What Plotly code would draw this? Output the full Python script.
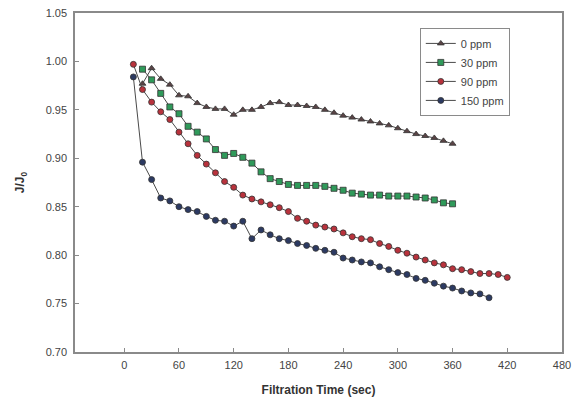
import plotly.graph_objects as go

t0 = list(range(20, 361, 10))
v0 = [0.977, 0.993, 0.982, 0.976, 0.965, 0.964, 0.957, 0.953, 0.951, 0.951,
      0.945, 0.950, 0.950, 0.953, 0.957, 0.958, 0.955, 0.955, 0.954, 0.953,
      0.950, 0.947, 0.944, 0.942, 0.940, 0.938, 0.936, 0.934, 0.931, 0.928,
      0.925, 0.923, 0.921, 0.918, 0.915]

t30 = list(range(20, 361, 10))
v30 = [0.992, 0.981, 0.967, 0.953, 0.946, 0.933, 0.927, 0.920, 0.909, 0.903,
       0.905, 0.901, 0.895, 0.886, 0.879, 0.876, 0.873, 0.872, 0.872, 0.872,
       0.871, 0.869, 0.867, 0.864, 0.863, 0.862, 0.862, 0.861, 0.861, 0.861,
       0.860, 0.859, 0.857, 0.854, 0.853]

t90 = list(range(10, 421, 10))
v90 = [0.997, 0.971, 0.958, 0.948, 0.940, 0.927, 0.915, 0.903, 0.894, 0.885,
       0.876, 0.870, 0.862, 0.858, 0.855, 0.852, 0.849, 0.845, 0.838, 0.835,
       0.831, 0.829, 0.827, 0.823, 0.819, 0.817, 0.816, 0.812, 0.809, 0.805,
       0.802, 0.798, 0.795, 0.792, 0.790, 0.786, 0.785, 0.783, 0.781, 0.781,
       0.780, 0.777]

t150 = list(range(10, 401, 10))
v150 = [0.984, 0.896, 0.878, 0.859, 0.856, 0.850, 0.847, 0.845, 0.840, 0.836,
        0.835, 0.830, 0.835, 0.817, 0.826, 0.821, 0.817, 0.815, 0.812, 0.810,
        0.807, 0.805, 0.803, 0.797, 0.795, 0.793, 0.792, 0.788, 0.785, 0.782,
        0.780, 0.776, 0.774, 0.771, 0.768, 0.766, 0.763, 0.761, 0.760, 0.756]

series = [
    ("0 ppm", t0, v0, "triangle-up", "#5a4446"),
    ("30 ppm", t30, v30, "square", "#2f9a5a"),
    ("90 ppm", t90, v90, "circle", "#b8323c"),
    ("150 ppm", t150, v150, "circle", "#2c3a62"),
]

x_ticks = [0, 60, 120, 180, 240, 300, 360, 420, 480]
y_ticks = [0.70, 0.75, 0.80, 0.85, 0.90, 0.95, 1.00, 1.05]

fig = go.Figure()
for name, t, v, sym, col in series:
    fig.add_trace(go.Scatter(
        x=t, y=v, name=name, mode="lines+markers",
        line=dict(color="#4a4a4a", width=1),
        marker=dict(symbol=sym, size=6, color=col,
                    line=dict(color="#333333", width=0.8)),
    ))

axis_common = dict(
    showline=True, linecolor="#8a8a8a", linewidth=1.5, mirror=True,
    showgrid=False, zeroline=False, ticks="inside", ticklen=4,
    tickcolor="#8a8a8a", automargin=False, ticklabeloverflow="allow",
    tickfont=dict(family="Arial", size=11, color="#444444"),
)

# page body has an 8px margin; figure sized so the plot lands where the reference has it
fig.update_layout(
    width=574, height=402,
    margin=dict(l=67, r=20, t=5, b=58),
    paper_bgcolor="white", plot_bgcolor="white",
    font=dict(family="Arial", color="#444444"),
    xaxis=dict(range=[-54, 480], tickvals=x_ticks,
               ticktext=[str(v) for v in x_ticks],
               ticklabelstandoff=2,
               title=dict(text="<b>Filtration Time (sec)</b>",
                          font=dict(family="Arial", size=12, color="#333333"),
                          standoff=16),
               **axis_common),
    yaxis=dict(range=[0.70, 1.05], tickvals=y_ticks,
               ticktext=[f"{v:.2f}" for v in y_ticks],
               ticklabelstandoff=4,
               title=dict(text="<b>J/J<sub>0</sub></b>",
                          font=dict(family="Arial", size=12, color="#333333"),
                          standoff=18),
               **axis_common),
    legend=dict(x=0.708, y=0.956, xanchor="left", yanchor="top",
                bordercolor="#8a8a8a", borderwidth=1, bgcolor="white",
                font=dict(family="Arial", size=11, color="#444444"),
                tracegroupgap=0, itemwidth=30),
    showlegend=True,
)

fig.write_html("out.html")
